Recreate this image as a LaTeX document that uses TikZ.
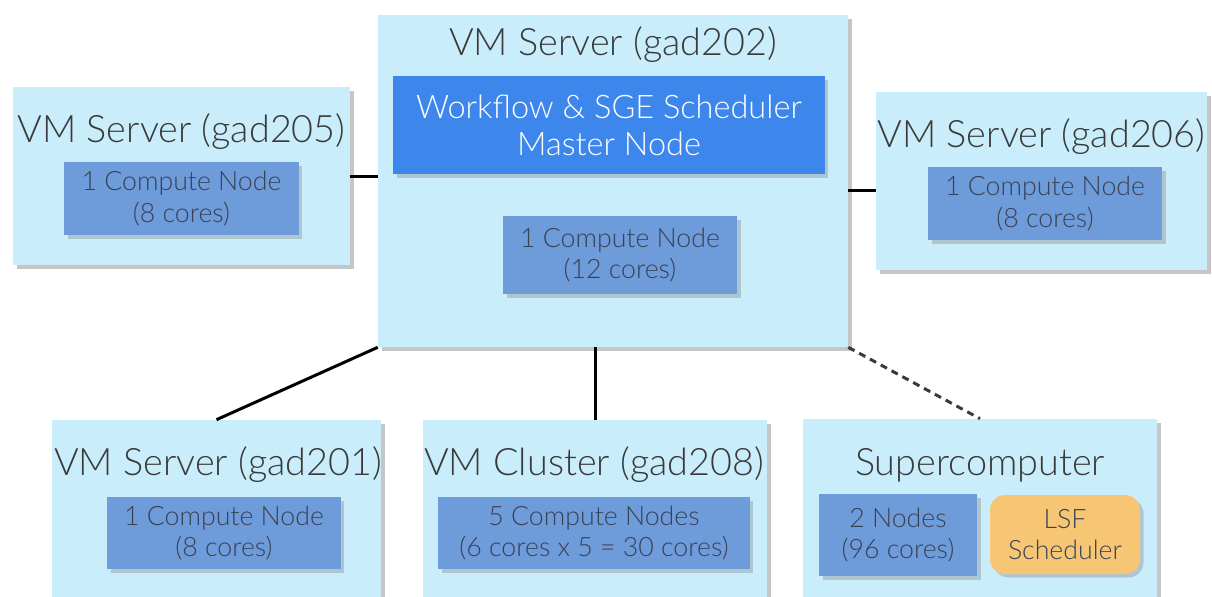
\documentclass[tikz,border=0pt]{standalone}
\usepackage{fontspec}
\setmainfont{Lato}[UprightFont=* Light, BoldFont=*]
\usetikzlibrary{shadows}

\definecolor{boxblue}{HTML}{C9EDFA}
\definecolor{masterblue}{HTML}{3D86EC}
\definecolor{nodeblue}{HTML}{6E9BDA}
\definecolor{lsforange}{HTML}{F7C675}
\definecolor{titlegray}{HTML}{3A3A3A}
\definecolor{nodetext}{HTML}{3A4254}

\begin{document}
\begin{tikzpicture}[x=0.02cm, y=-0.02cm]
		\tikzset{server/.style = {shape=rectangle, fill=boxblue, inner sep=0pt,
				drop shadow={shadow xshift=2.5pt, shadow yshift=-2.5pt, opacity=0.45}},
			title/.style = {font=\fontsize{21.5}{26}\selectfont, text=titlegray},
			cnode/.style = {shape=rectangle, fill=nodeblue, inner sep=0pt, align=center,
				text=nodetext, font=\fontsize{15.2}{18}\selectfont,
				drop shadow={shadow xshift=2pt, shadow yshift=-2pt, opacity=0.35}},
			link/.style = {line width=1.7pt, black}}

		\useasboundingbox (0,0) rectangle (1212,596);

		% central server
		\node[server, minimum width=9.4cm, minimum height=6.64cm] (srv202) at (613,181) {};
		\node[title] (t202) at (613,45) {VM Server (gad202)};
		\node[cnode, fill=masterblue, text=white, minimum width=8.64cm, minimum height=1.96cm,
			font=\fontsize{18.5}{21}\selectfont] (master) at (609,125) {Workflow \& SGE Scheduler\\Master Node};
		\node[cnode, minimum width=4.68cm, minimum height=1.56cm] (cn202) at (620,255) {1 Compute Node\\(12 cores)};

		% side servers
		\node[server, minimum width=6.74cm, minimum height=3.56cm] (srv205) at (181.5,176) {};
		\node[title] (t205) at (181.5,132) {VM Server (gad205)};
		\node[cnode, minimum width=4.7cm, minimum height=1.46cm] (cn205) at (181.5,198.5) {1 Compute Node\\(8 cores)};

		\node[server, minimum width=6.62cm, minimum height=3.56cm] (srv206) at (1041.5,181) {};
		\node[title] (t206) at (1041.5,137) {VM Server (gad206)};
		\node[cnode, minimum width=4.68cm, minimum height=1.46cm] (cn206) at (1045,203.5) {1 Compute Node\\(8 cores)};

		% bottom row
		\node[server, minimum width=6.58cm, minimum height=3.8cm] (srv201) at (216.5,515) {};
		\node[title] (t201) at (218,465) {VM Server (gad201)};
		\node[cnode, minimum width=4.68cm, minimum height=1.44cm] (cn201) at (224,533) {1 Compute Node\\(8 cores)};

		\node[server, minimum width=6.88cm, minimum height=3.8cm] (clu208) at (595,515) {};
		\node[title] (t208) at (594,465) {VM Cluster (gad208)};
		\node[cnode, minimum width=6.24cm, minimum height=1.44cm] (cn208) at (594,533) {5 Compute Nodes\\(6 cores x 5 = 30 cores)};

		\node[server, minimum width=7.08cm, minimum height=3.82cm] (sc) at (980,514.5) {};
		\node[title] (tsc) at (980,465) {Supercomputer};
		\node[cnode, minimum width=3.16cm, minimum height=1.64cm] (n2) at (898,535) {2 Nodes\\(96 cores)};
		\node[cnode, fill=lsforange, rounded corners=0.3cm, minimum width=3.0cm, minimum height=1.58cm] (lsf) at (1065,534.5) {LSF\\Scheduler};

		\draw[link] (srv205.east) -- (srv202.west |- srv205.east);
		\draw[link] ([yshift=-0.18cm]srv202.east) -- ([yshift=-0.18cm]srv206.west);
		\draw[link] (srv202.south west) -- (srv201.north);
		\draw[link] (clu208.north) -- (clu208.north |- srv202.south);
		\draw[link, dash pattern=on 4pt off 3pt, titlegray] (srv202.south east) -- (sc.north);

	\end{tikzpicture}
\end{document}
